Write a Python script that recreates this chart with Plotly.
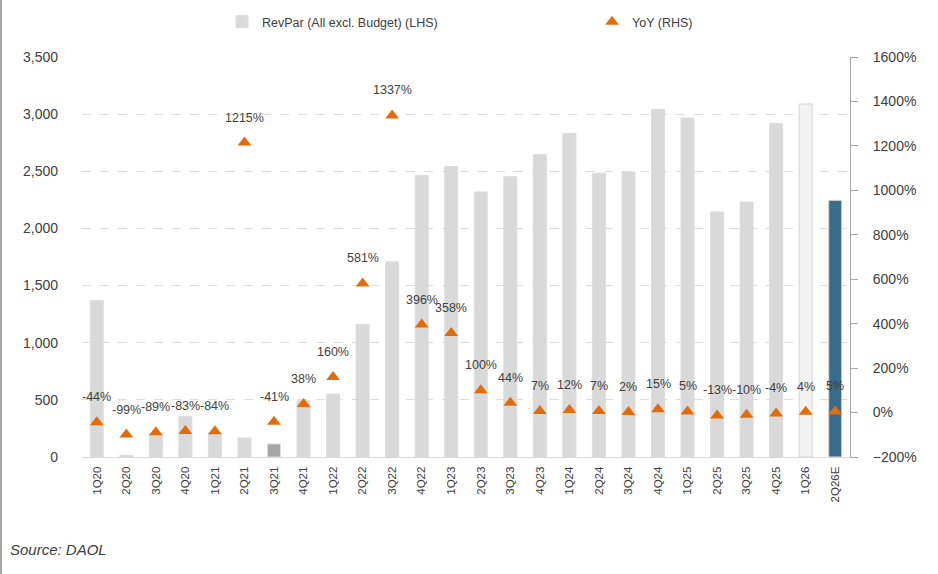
import plotly.graph_objects as go

quarters = ["1Q20", "2Q20", "3Q20", "4Q20", "1Q21", "2Q21", "3Q21", "4Q21", "1Q22", "2Q22",
            "3Q22", "4Q22", "1Q23", "2Q23", "3Q23", "4Q23", "1Q24", "2Q24", "3Q24", "4Q24",
            "1Q25", "2Q25", "3Q25", "4Q25", "1Q26", "2Q26E"]
revpar = [1368, 15, 200, 353, 213, 166, 114, 493, 551, 1160,
          1709, 2462, 2541, 2319, 2453, 2645, 2832, 2482, 2494, 3042,
          2966, 2144, 2231, 2919, 3089, 2246]
yoy = [-44, -99, -89, -83, -84, 1215, -41, 38, 160, 581,
       1337, 396, 358, 100, 44, 7, 12, 7, 2, 15,
       5, -13, -10, -4, 4, 5]

FONT = "Liberation Sans, Arial, sans-serif"
TXT = "#404040"

special_fill = {"3Q21": "#a6a6a6", "1Q26": "#f2f2f2", "2Q26E": "#3b6b8a"}
special_line = {"1Q26": "#d4d4d4", "2Q26E": "#d9d9d9"}
bar_colors = [special_fill.get(q, "#d9d9d9") for q in quarters]
line_colors = [special_line.get(q, "#dcdcdc") for q in quarters]

fig = go.Figure()
fig.add_trace(go.Bar(
    x=quarters, y=revpar, name="RevPar (All excl. Budget) (LHS)",
    marker=dict(color=bar_colors, line=dict(color=line_colors, width=1)),
    yaxis="y", showlegend=True, legend="legend",
))
fig.add_trace(go.Scatter(
    x=quarters, y=yoy, name="YoY (RHS)", mode="markers",
    marker=dict(symbol="triangle-up", size=12, color="#e36c0a"),
    yaxis="y2", legend="legend2",
))

for q, v in zip(quarters, yoy):
    fig.add_annotation(x=q, y=v, xref="x", yref="y2", text=f"{v}%", showarrow=False,
                       yshift=25, font=dict(family=FONT, size=12.5, color=TXT))

fig.add_annotation(text="<i>Source: DAOL</i>", xref="paper", yref="paper",
                   x=(8 - 82) / 768, y=(457 - 549) / 400, xanchor="left", yanchor="middle",
                   showarrow=False, font=dict(family=FONT, size=15, color=TXT))

fig.add_shape(type="line", xref="paper", yref="paper",
              x0=(1 - 82) / 768, x1=(1 - 82) / 768, y0=(457 - 574) / 400, y1=457 / 400,
              line=dict(color="#a6a6a6", width=2))

leg_common = dict(orientation="h", xanchor="left", yanchor="middle", y=1 + 35 / 400,
                  font=dict(family=FONT, size=12.5, color=TXT), bgcolor="rgba(0,0,0,0)")

fig.update_layout(
    width=938, height=574,
    margin=dict(l=82, r=88, t=57, b=117, autoexpand=False),
    paper_bgcolor="white", plot_bgcolor="white",
    font=dict(family=FONT, size=13, color=TXT),
    bargap=0.56,
    legend=dict(x=(222 - 82) / 768, **leg_common),
    legend2=dict(x=(592 - 82) / 768, **leg_common),
    xaxis=dict(type="category", tickangle=-90, tickfont=dict(size=11.5, color=TXT),
               showline=True, linecolor="#d9d9d9", linewidth=1, ticks="",
               ticklabelstandoff=4,
               showgrid=False, range=[-0.5, len(quarters) - 0.5]),
    yaxis=dict(range=[0, 3500], dtick=500, tickformat=",", showgrid=True,
               gridcolor="#dcdcdc", griddash="dash", gridwidth=1, zeroline=False,
               ticks="", ticklabelstandoff=23, tickfont=dict(size=14, color=TXT)),
    yaxis2=dict(range=[-200, 1600], dtick=200, overlaying="y", side="right",
                ticksuffix="%", showgrid=False, zeroline=False,
                showline=True, linecolor="#a6a6a6", linewidth=1,
                ticks="outside", ticklen=7, tickcolor="#a6a6a6",
                ticklabelstandoff=12, tickfont=dict(size=14, color=TXT)),
)

fig.write_html("out.html", config={"displayModeBar": False},
               post_script="document.body.style.margin='0';document.body.style.padding='0';")
